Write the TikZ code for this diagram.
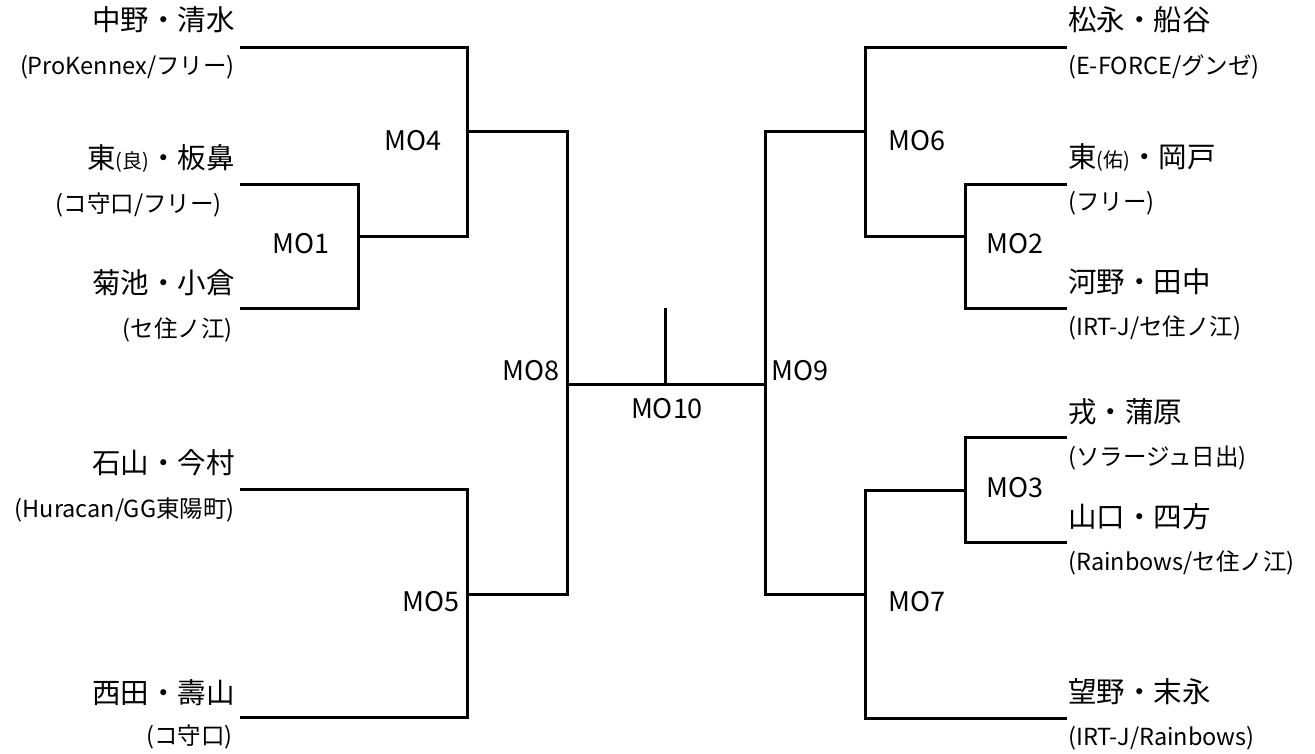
\documentclass[tikz,border=0pt]{standalone}
\usepackage{fontspec}
\setmainfont{Noto Sans CJK JP}
\begin{document}
\begin{tikzpicture}[x=1pt,y=-1pt,
  br/.style={line width=3pt,line cap=rect},
  nm/.style={font=\fontsize{28.5}{32}\selectfont,inner sep=0pt},
  sub/.style={font=\fontsize{23.5}{27}\selectfont,inner sep=0pt},
  mo/.style={font=\fontsize{27}{30}\selectfont,inner sep=0pt},
  lnm/.style={nm,anchor=east},
  lsub/.style={sub,anchor=east},
  rnm/.style={nm,anchor=west},
  rsub/.style={sub,anchor=west}]
\useasboundingbox (0,0) rectangle (1315,753);
\newcommand{\sm}[1]{{\fontsize{20}{24}\selectfont #1}}
% left names
\node[lnm] (n1) at (235,20) {中野・清水};
\node[lsub] (s1) at (235,67) {(ProKennex/フリー)};
\node[lnm] (n2) at (235,158) {東\sm{(良)}・板鼻};
\node[lsub] (s2) at (222,205) {(コ守口/フリー)};
\node[lnm] (n3) at (235,283) {菊池・小倉};
\node[lsub] (s3) at (233,330) {(セ住ノ江)};
\node[lnm] (n4) at (235,463) {石山・今村};
\node[lsub] (s4) at (235,510) {(Huracan/GG東陽町)};
\node[lnm] (n5) at (235,693) {西田・壽山};
\node[lsub] (s5) at (233,737) {(コ守口)};
% right names
\node[rnm] (n6) at (1068,20) {松永・船谷};
\node[rsub] (s6) at (1068,67) {(E-FORCE/グンゼ)};
\node[rnm] (n7) at (1068,157) {東\sm{(佑)}・岡戸};
\node[rsub] (s7) at (1068,203) {(フリー)};
\node[rnm] (n8) at (1068,282) {河野・田中};
\node[rsub] (s8) at (1068,328) {(IRT-J/セ住ノ江)};
\node[rnm] (n9) at (1068,412) {戎・蒲原};
\node[rsub] (s9) at (1068,458) {(ソラージュ日出)};
\node[rnm] (n10) at (1068,517) {山口・四方};
\node[rsub] (s10) at (1068,563) {(Rainbows/セ住ノ江)};
\node[rnm] (n11) at (1068,692) {望野・末永};
\node[rsub] (s11) at (1068,738) {(IRT-J/Rainbows)};
% match labels
\node[mo] (mo4) at (413,141) {MO4};
\node[mo] (mo1) at (301,244) {MO1};
\node[mo] (mo5) at (431,602) {MO5};
\node[mo] (mo8) at (531,371) {MO8};
\node[mo] (mo10) at (667,409) {MO10};
\node[mo] (mo9) at (800,371) {MO9};
\node[mo] (mo6) at (917,141) {MO6};
\node[mo] (mo2) at (1015,244) {MO2};
\node[mo] (mo3) at (1015,488) {MO3};
\node[mo] (mo7) at (917,602) {MO7};
% bracket coordinates
\coordinate (a1) at (241,47);
\coordinate (a2) at (241,184);
\coordinate (a3) at (241,308);
\coordinate (a4) at (241,489);
\coordinate (a5) at (241,717);
\coordinate (b1) at (1065,47);
\coordinate (b2) at (1065,184);
\coordinate (b3) at (1065,308);
\coordinate (b4) at (1065,437);
\coordinate (b5) at (1065,542);
\coordinate (b6) at (1065,718);
\coordinate (top) at (665,308);
% left brackets
\draw[br] (a2) -| (358,308) -- (a3);
\draw[br] (358,236) -| (467,47) -- (a1);
\draw[br] (a4) -| (467,717) -- (a5);
\draw[br] (467,131) -| (567,594) -- (467,594);
% right brackets
\draw[br] (b2) -| (965,308) -- (b3);
\draw[br] (965,236) -| (865,47) -- (b1);
\draw[br] (b4) -| (965,542) -- (b5);
\draw[br] (965,490) -| (865,718) -- (b6);
\draw[br] (865,131) -| (765,594) -- (865,594);
% final
\draw[br] (567,384) -- (765,384);
\draw[br,line cap=butt] (665,384) -- (top);
\end{tikzpicture}
\end{document}
